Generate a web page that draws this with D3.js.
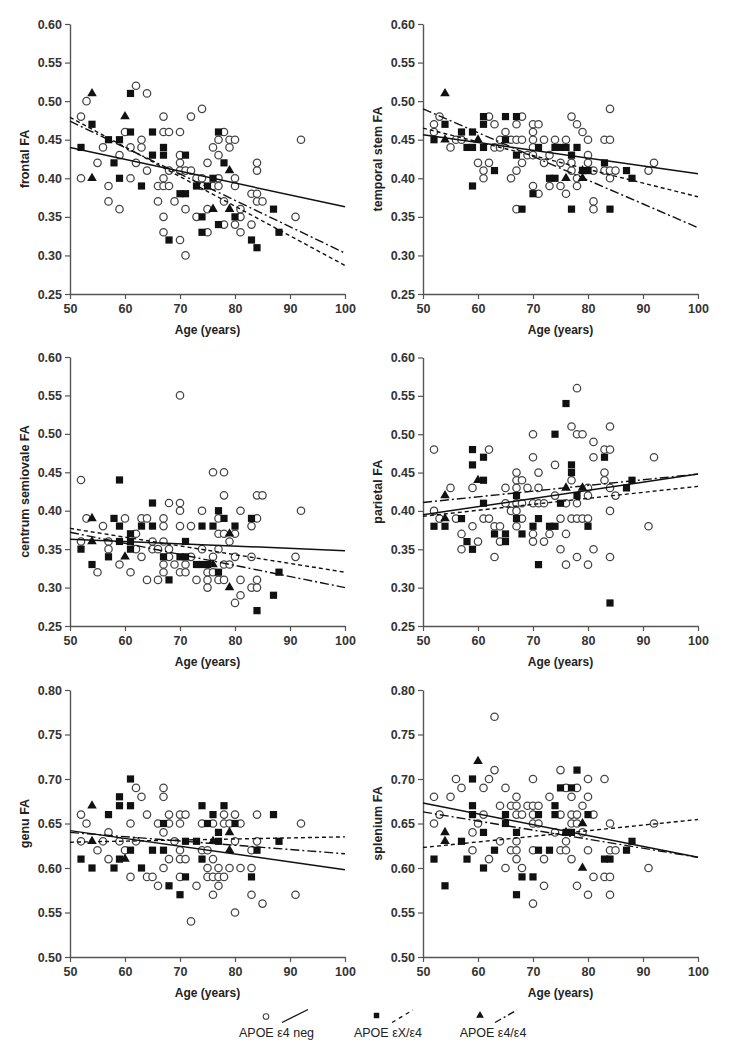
<!DOCTYPE html>
<html>
<head>
<meta charset="utf-8">
<script src="https://cdn.jsdelivr.net/npm/d3@7"></script>
<style>
html,body{margin:0;padding:0;background:#fff;}
svg{display:block;font-family:"Liberation Sans",Arial,sans-serif;}
</style>
</head>
<body>
<svg id="chart" width="731" height="1050"></svg>
<script>
// ---------------- DATA ----------------
const xTicks = [50, 60, 70, 80, 90, 100];
const yTicksLow = [0.25, 0.30, 0.35, 0.40, 0.45, 0.50, 0.55, 0.60];
const yTicksHigh = [0.50, 0.55, 0.60, 0.65, 0.70, 0.75, 0.80];
const panelNames = ["frontal FA", "temporal stem FA", "centrum semiovale FA", "parietal FA", "genu FA", "splenium FA"];
const groupNames = ["APOE \u03b54 neg", "APOE \u03b5X/\u03b54", "APOE \u03b54/\u03b54"];

// frontal
const frontalNeg = [[52,.48],[52,.40],[53,.50],[55,.42],[56,.44],[57,.39],[57,.37],[59,.43],[59,.36],[60,.46],[61,.44],[61,.40],[62,.52],[62,.42],[63,.45],[63,.44],[64,.51],[64,.41],[66,.39],[66,.37],[67,.48],[67,.46],[67,.40],[67,.39],[67,.35],[67,.33],[68,.46],[68,.41],[68,.39],[69,.37],[70,.46],[70,.43],[70,.42],[70,.41],[70,.32],[71,.41],[71,.36],[71,.30],[72,.48],[72,.41],[73,.40],[73,.35],[74,.49],[74,.40],[74,.39],[75,.42],[75,.36],[75,.33],[76,.44],[76,.39],[77,.45],[77,.43],[77,.40],[77,.39],[78,.46],[78,.37],[78,.34],[79,.45],[79,.44],[80,.45],[80,.40],[80,.39],[80,.34],[81,.36],[81,.35],[81,.33],[83,.38],[83,.34],[84,.42],[84,.41],[84,.38],[84,.37],[85,.37],[91,.35],[92,.45]];
const frontalX4 = [[52,.44],[54,.47],[57,.45],[58,.42],[59,.45],[59,.40],[61,.51],[61,.46],[63,.39],[65,.46],[65,.43],[67,.44],[67,.43],[68,.32],[70,.38],[71,.38],[71,.43],[73,.39],[74,.35],[74,.33],[75,.39],[76,.40],[77,.46],[77,.34],[78,.42],[80,.35],[83,.32],[84,.31],[87,.36],[88,.33]];
const frontal44 = [[54,.51],[54,.40],[60,.48],[76,.36],[79,.41],[79,.36]];
const frontalFit = [[0.440,0.363],[0.479,0.287],[0.474,0.303]];

// temporal stem
const temporalNeg = [[52,.47],[52,.46],[53,.48],[55,.44],[56,.45],[57,.45],[60,.42],[61,.41],[61,.40],[62,.48],[62,.42],[63,.47],[63,.44],[64,.45],[64,.44],[65,.46],[66,.45],[66,.40],[67,.47],[67,.45],[67,.41],[67,.36],[68,.48],[68,.45],[68,.42],[69,.43],[70,.47],[70,.46],[70,.45],[70,.44],[70,.43],[70,.39],[71,.47],[71,.38],[72,.45],[72,.42],[73,.43],[73,.39],[74,.45],[75,.42],[75,.39],[76,.45],[76,.38],[77,.48],[77,.42],[77,.41],[78,.47],[78,.40],[78,.39],[79,.46],[80,.45],[80,.43],[80,.42],[81,.41],[81,.37],[81,.36],[83,.45],[83,.41],[84,.49],[84,.45],[84,.41],[84,.40],[85,.41],[91,.41],[92,.42]];
const temporalX4 = [[52,.45],[54,.47],[57,.46],[58,.44],[59,.44],[59,.46],[59,.39],[61,.48],[61,.47],[61,.44],[63,.41],[65,.48],[65,.45],[67,.48],[67,.43],[68,.36],[70,.38],[71,.44],[73,.40],[74,.40],[74,.44],[75,.44],[76,.44],[77,.43],[77,.36],[78,.44],[79,.41],[80,.41],[83,.42],[84,.36],[87,.41],[88,.40]];
const temporal44 = [[54,.51],[54,.45],[60,.45],[76,.40],[79,.41],[79,.40]];
const temporalFit = [[0.4565,0.406],[0.465,0.376],[0.490,0.336]];

// centrum semiovale
const centrumNeg = [[52,.44],[52,.36],[53,.39],[55,.32],[56,.38],[57,.36],[57,.35],[59,.33],[60,.39],[61,.32],[62,.37],[62,.35],[63,.39],[63,.34],[64,.39],[64,.31],[65,.36],[65,.35],[66,.35],[66,.31],[67,.39],[67,.38],[67,.36],[67,.33],[67,.32],[68,.41],[68,.35],[68,.34],[69,.33],[70,.55],[70,.41],[70,.40],[70,.38],[70,.32],[71,.33],[71,.32],[72,.38],[72,.34],[73,.31],[74,.40],[74,.35],[75,.32],[75,.31],[75,.30],[76,.45],[76,.34],[76,.32],[77,.39],[77,.37],[77,.35],[77,.31],[78,.45],[78,.42],[78,.37],[78,.33],[78,.31],[79,.36],[79,.33],[80,.37],[80,.34],[80,.28],[81,.40],[81,.31],[81,.29],[83,.38],[83,.34],[83,.30],[84,.42],[84,.39],[84,.31],[84,.30],[85,.42],[91,.34],[92,.40]];
const centrumX4 = [[52,.35],[54,.33],[57,.34],[58,.39],[59,.44],[59,.38],[59,.36],[61,.37],[61,.36],[61,.35],[63,.38],[65,.41],[65,.38],[67,.34],[68,.31],[70,.34],[71,.34],[71,.36],[73,.33],[74,.33],[75,.33],[74,.38],[76,.38],[77,.40],[77,.32],[78,.39],[80,.38],[83,.39],[84,.27],[87,.29],[88,.32]];
const centrum44 = [[54,.39],[54,.36],[60,.34],[76,.33],[79,.37],[79,.30]];
const centrumFit = [[0.363,0.348],[0.377,0.320],[0.372,0.300]];

// parietal
const parietalNeg = [[52,.48],[52,.40],[53,.39],[55,.43],[56,.39],[57,.37],[57,.35],[59,.43],[59,.38],[60,.36],[61,.39],[62,.48],[62,.39],[63,.38],[63,.34],[64,.38],[64,.36],[65,.43],[65,.41],[66,.40],[67,.45],[67,.44],[67,.43],[67,.41],[67,.40],[67,.38],[68,.44],[68,.41],[68,.39],[69,.43],[70,.50],[70,.47],[70,.41],[70,.37],[70,.36],[71,.45],[71,.43],[71,.41],[72,.41],[72,.36],[73,.37],[74,.46],[74,.42],[75,.39],[75,.35],[76,.41],[76,.37],[76,.33],[77,.51],[77,.44],[77,.39],[78,.56],[78,.50],[78,.41],[78,.39],[78,.34],[79,.50],[79,.39],[80,.43],[80,.42],[80,.39],[80,.33],[81,.49],[81,.47],[81,.35],[83,.48],[83,.45],[83,.44],[84,.51],[84,.48],[84,.43],[84,.40],[84,.34],[85,.42],[91,.38],[92,.47]];
const parietalX4 = [[52,.38],[54,.38],[57,.39],[58,.36],[59,.48],[59,.46],[59,.35],[61,.47],[61,.44],[61,.41],[63,.37],[65,.37],[65,.36],[67,.42],[67,.39],[68,.37],[70,.38],[71,.39],[71,.33],[73,.38],[74,.38],[74,.50],[75,.41],[76,.54],[77,.46],[77,.45],[78,.42],[80,.38],[83,.47],[84,.28],[87,.43],[88,.44]];
const parietal44 = [[54,.42],[54,.39],[60,.44],[76,.43],[79,.43]];
const parietalFit = [[0.395,0.448],[0.393,0.432],[0.411,0.448]];

// genu
const genuNeg = [[52,.66],[52,.63],[53,.65],[55,.62],[56,.63],[57,.64],[57,.61],[59,.63],[60,.62],[61,.65],[61,.59],[62,.69],[62,.63],[63,.68],[64,.66],[64,.59],[65,.59],[66,.65],[66,.58],[67,.69],[67,.68],[67,.64],[67,.60],[68,.66],[68,.65],[68,.61],[69,.63],[70,.66],[70,.65],[70,.62],[70,.61],[70,.59],[71,.66],[71,.61],[72,.54],[73,.58],[74,.65],[74,.62],[75,.62],[75,.60],[75,.59],[76,.65],[76,.61],[76,.59],[76,.57],[77,.60],[77,.59],[77,.58],[78,.66],[78,.65],[78,.59],[79,.65],[79,.60],[80,.66],[80,.63],[80,.55],[81,.65],[81,.60],[83,.62],[83,.60],[83,.57],[84,.66],[84,.63],[85,.56],[91,.57],[92,.65]];
const genuX4 = [[52,.61],[54,.60],[57,.66],[58,.60],[59,.68],[59,.67],[59,.61],[61,.70],[61,.67],[61,.62],[63,.60],[65,.62],[67,.65],[67,.62],[68,.58],[70,.57],[71,.63],[71,.59],[73,.63],[74,.67],[74,.61],[75,.65],[76,.66],[77,.64],[77,.63],[78,.67],[80,.65],[83,.59],[84,.62],[87,.66],[88,.63]];
const genu44 = [[54,.67],[54,.63],[60,.61],[76,.63],[79,.64],[79,.62]];
const genuFit = [[0.642,0.598],[0.629,0.635],[0.640,0.616]];

// splenium
const spleniumNeg = [[52,.68],[52,.65],[53,.66],[55,.68],[56,.70],[57,.69],[59,.64],[59,.62],[60,.65],[61,.69],[61,.66],[62,.70],[62,.61],[63,.77],[63,.71],[64,.67],[64,.63],[65,.69],[65,.60],[66,.67],[66,.62],[67,.68],[67,.67],[67,.66],[67,.63],[67,.62],[67,.61],[68,.66],[68,.60],[69,.67],[70,.70],[70,.67],[70,.66],[70,.65],[70,.62],[70,.56],[71,.67],[71,.65],[72,.61],[72,.58],[73,.68],[74,.64],[75,.71],[75,.66],[75,.62],[76,.69],[76,.63],[76,.62],[77,.68],[77,.66],[77,.65],[77,.61],[78,.69],[78,.66],[78,.65],[78,.58],[79,.67],[79,.64],[80,.70],[80,.68],[80,.62],[80,.57],[81,.66],[81,.59],[83,.70],[83,.59],[84,.65],[84,.62],[84,.59],[84,.57],[85,.62],[91,.60],[92,.65]];
const spleniumX4 = [[52,.61],[54,.58],[57,.63],[58,.61],[59,.70],[59,.67],[59,.66],[61,.64],[61,.60],[63,.62],[65,.66],[65,.65],[67,.64],[67,.57],[68,.59],[70,.59],[71,.66],[71,.62],[73,.62],[74,.67],[74,.66],[75,.69],[77,.69],[76,.64],[77,.64],[78,.71],[80,.66],[83,.61],[84,.61],[87,.62],[88,.63]];
const splenium44 = [[54,.64],[54,.63],[60,.72],[76,.64],[79,.65],[79,.60]];
const spleniumFit = [[0.673,0.612],[0.623,0.6545],[0.663,0.612]];

// ---------------- LAYOUT ----------------
const layout = [
  {x0:70,  x1:345, yTop:24,  yBot:294, dom:[0.25,0.60], ticks:yTicksLow},
  {x0:423, x1:698, yTop:24,  yBot:294, dom:[0.25,0.60], ticks:yTicksLow},
  {x0:70,  x1:345, yTop:357, yBot:626, dom:[0.25,0.60], ticks:yTicksLow},
  {x0:423, x1:698, yTop:357.5, yBot:626, dom:[0.25,0.60], ticks:yTicksLow},
  {x0:70,  x1:345, yTop:690, yBot:957, dom:[0.50,0.80], ticks:yTicksHigh},
  {x0:423, x1:698, yTop:690, yBot:957, dom:[0.50,0.80], ticks:yTicksHigh}
];
const panels = [
  {neg:frontalNeg,  x4:frontalX4,  e44:frontal44,  fit:frontalFit},
  {neg:temporalNeg, x4:temporalX4, e44:temporal44, fit:temporalFit},
  {neg:centrumNeg,  x4:centrumX4,  e44:centrum44,  fit:centrumFit},
  {neg:parietalNeg, x4:parietalX4, e44:parietal44, fit:parietalFit},
  {neg:genuNeg,     x4:genuX4,     e44:genu44,     fit:genuFit},
  {neg:spleniumNeg, x4:spleniumX4, e44:splenium44, fit:spleniumFit}
];
const dashes = [null, "4,3", "9,3,2,3"];
const axisColor = "#555";

const svg = d3.select("#chart");
const sq = d3.symbol().type(d3.symbolSquare).size(52);
const tri = d3.symbol().type(d3.symbolTriangle).size(40);

panels.forEach((p, i) => {
  const L = layout[i];
  const x = d3.scaleLinear().domain([50,100]).range([L.x0, L.x1]);
  const y = d3.scaleLinear().domain(L.dom).range([L.yBot, L.yTop]);
  const g = svg.append("g");

  // axes
  const ax = g.append("g").attr("transform", `translate(0,${L.yBot})`)
    .call(d3.axisBottom(x).tickValues(xTicks).tickSize(5).tickSizeOuter(0).tickPadding(5).tickFormat(d3.format("d")));
  const ay = g.append("g").attr("transform", `translate(${L.x0},0)`)
    .call(d3.axisLeft(y).tickValues(L.ticks).tickSize(5).tickSizeOuter(0).tickPadding(3).tickFormat(d3.format(".2f")));
  [ax, ay].forEach(a => {
    a.select(".domain").attr("stroke", axisColor).attr("stroke-width", 1.4);
    a.selectAll(".tick line").attr("stroke", axisColor).attr("stroke-width", 1.2);
    a.selectAll(".tick text").attr("fill", "#333").attr("font-size", 12.5)
      .attr("font-family", "Liberation Sans, Arial, sans-serif").attr("font-weight", "bold");
  });

  // titles
  g.append("text").attr("x", (L.x0+L.x1)/2).attr("y", L.yBot + 39.5)
    .attr("text-anchor","middle").attr("font-size",12).attr("font-weight","bold").attr("fill","#222")
    .text("Age (years)");
  g.append("text").attr("transform", `translate(${L.x0-41},${(L.yTop+L.yBot)/2}) rotate(-90)`)
    .attr("text-anchor","middle").attr("font-size",12.5).attr("font-weight","bold").attr("fill","#222")
    .text(panelNames[i]);

  // points
  g.append("g").selectAll("circle").data(p.neg).join("circle")
    .attr("cx", d => x(d[0])).attr("cy", d => y(d[1])).attr("r", 3.7)
    .attr("fill", "#fff").attr("stroke", "#444").attr("stroke-width", 1.25);
  g.append("g").selectAll("path").data(p.x4).join("path")
    .attr("transform", d => `translate(${x(d[0])},${y(d[1])})`).attr("d", sq).attr("fill", "#111");
  g.append("g").selectAll("path").data(p.e44).join("path")
    .attr("transform", d => `translate(${x(d[0])},${y(d[1])})`).attr("d", tri).attr("fill", "#111");

  // regression lines
  const line = d3.line().x(d => x(d[0])).y(d => y(d[1]));
  p.fit.forEach((f, k) => {
    g.append("path").datum([[50, f[0]], [100, f[1]]]).attr("d", line)
      .attr("fill","none").attr("stroke","#111").attr("stroke-width", k===0 ? 1.5 : 1.4)
      .attr("stroke-dasharray", dashes[k]);
  });
});

// ---------------- LEGEND ----------------
const legendPos = [
  {mx:266, my:1016.5, lx0:282, ly0:1022.5, lx1:308, ly1:1009.5, tx:276.5},
  {mx:376.5, my:1015.5, lx0:392, ly0:1022.5, lx1:413, ly1:1010, tx:388},
  {mx:480, my:1015.5, lx0:495, ly0:1022.5, lx1:517, ly1:1010, tx:493}
];
const lg = svg.append("g");
legendPos.forEach((L, k) => {
  if (k === 0) {
    lg.append("circle").attr("cx", L.mx).attr("cy", L.my).attr("r", 2.8)
      .attr("fill","#fff").attr("stroke","#444").attr("stroke-width",1.1);
  } else {
    lg.append("path").attr("transform", `translate(${L.mx},${L.my})`)
      .attr("d", (k===1 ? d3.symbol().type(d3.symbolSquare).size(30) : d3.symbol().type(d3.symbolTriangle).size(26))())
      .attr("fill","#111");
  }
  lg.append("line").attr("x1",L.lx0).attr("y1",L.ly0).attr("x2",L.lx1).attr("y2",L.ly1)
    .attr("stroke","#111").attr("stroke-width",1.3).attr("stroke-dasharray", k===0 ? null : (k===1 ? "4,4" : "7,3,2,3"));
  lg.append("text").attr("x", L.tx).attr("y", 1037).attr("text-anchor","middle")
    .attr("font-size", 12.5).attr("fill","#222").text(groupNames[k]);
});
</script>
</body>
</html>
